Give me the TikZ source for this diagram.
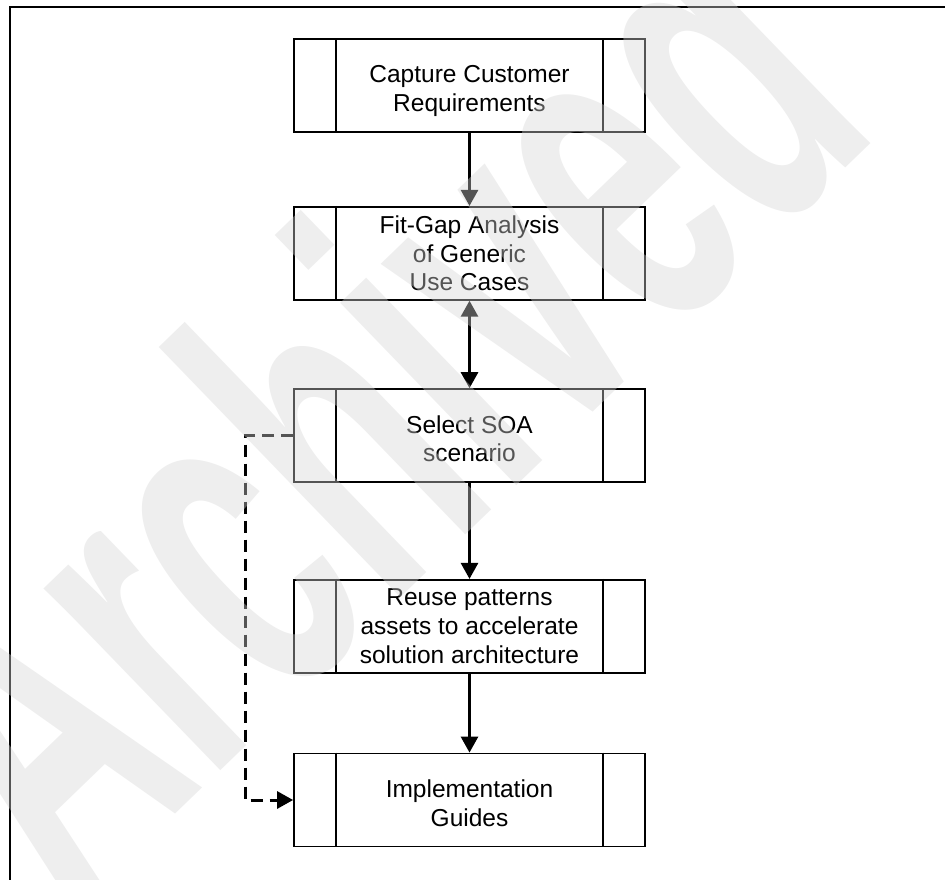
\documentclass[tikz,border=0pt]{standalone}
\usepackage{fontspec}
\usepackage{graphicx}
\setmainfont{Liberation Sans}
\usetikzlibrary{arrows.meta}
\begin{document}
\begin{tikzpicture}[x=1pt,y=-1pt,
  box/.style={draw=black, line width=1.8pt, minimum width=351pt, minimum height=93pt, inner sep=0pt},
  inner/.style={line width=1.4pt},
  lbl/.style={align=center, font=\fontsize{24.5}{28.7}\selectfont, inner sep=0pt},
  flow/.style={line width=2.8pt, -{Triangle[length=16pt,width=17pt]}},
  bothflow/.style={line width=2.8pt, {Triangle[length=16pt,width=17pt]}-{Triangle[length=16pt,width=17pt]}},
  dashflow/.style={line width=3pt, dash pattern=on 12pt off 7pt, -{Triangle[length=16pt,width=17pt]}},
  wm/.style={font=\bfseries\fontsize{480}{480}\selectfont, text=black!17, text opacity=0.4, inner sep=0pt}]
\useasboundingbox (0,0) rectangle (945,880);
\draw[line width=2pt] (9.5,880) -- (9.5,7.5) -- (945,7.5);

\node[box] (b1) at (469.5,85.8) {};
\node[box] (b2) at (469.5,253.3) {};
\node[box] (b3) at (469.5,435.6) {};
\node[box] (b4) at (469.5,626.3) {};
\node[box] (b5) at (469.5,800) {};

\foreach \b in {b1,b2,b3,b4,b5}{
  \draw[inner] ([xshift=43pt]\b.north west) -- ([xshift=43pt]\b.south west);
  \draw[inner] ([xshift=-43pt]\b.north east) -- ([xshift=-43pt]\b.south east);
}

\node[lbl, yshift=-5.5pt] (t1) at (b1.center) {Capture Customer\\Requirements};
\node[lbl] (t2) at (b2.center) {Fit-Gap Analysis\\of Generic\\Use Cases};
\node[lbl, yshift=-3pt] (t3) at (b3.center) {Select SOA\\scenario};
\node[lbl] (t4) at (b4.center) {Reuse patterns\\assets to accelerate\\solution architecture};
\node[lbl, yshift=-3pt] (t5) at (b5.center) {Implementation\\Guides};

\draw[flow] (b1) -- (b2);
\draw[bothflow] (b2) -- (b3);
\draw[flow] (b3) -- (b4);
\draw[flow] (b4) -- (b5);
\draw[dashflow] (b3.west) -- ++(-48,0) |- (b5.west);

\node[wm, rotate=44] (wmark) at (358,400) {\scalebox{0.55}[1]{Archived}};
\end{tikzpicture}
\end{document}
